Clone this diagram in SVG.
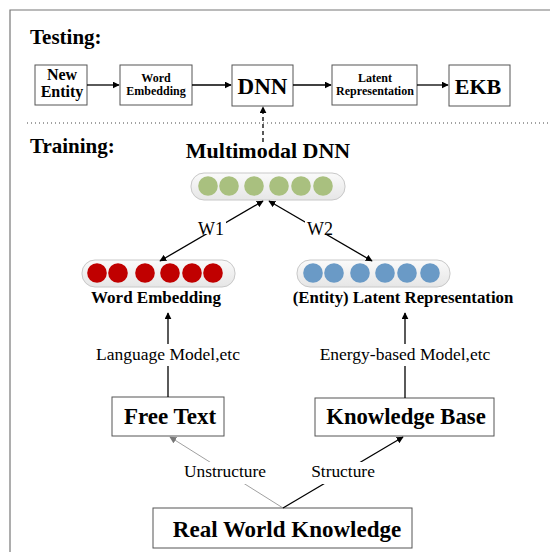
<svg xmlns="http://www.w3.org/2000/svg" width="550" height="552" viewBox="0 0 550 552">
<style>
.t{font-family:"Liberation Serif","Times New Roman",serif;fill:#000}
.b{font-weight:bold}
.box{fill:#fff;stroke:#555;stroke-width:1}
.ln{stroke:#000;stroke-width:1.3;fill:none}
.pill{fill:url(#pg);stroke:#c8c8c8;stroke-width:1}
.g{fill:#a9c07f}
.r{fill:#c00000}
.bl{fill:#6a9ac6}
</style>
<defs>
<linearGradient id="pg" x1="0" y1="0" x2="0" y2="1">
<stop offset="0" stop-color="#fafafa"/><stop offset="1" stop-color="#e6e6e6"/>
</linearGradient>
<marker id="ah" viewBox="0 0 10 10" refX="9" refY="5" markerWidth="7" markerHeight="7" orient="auto-start-reverse" markerUnits="userSpaceOnUse">
<path d="M0,0 L10,5 L0,10 z" fill="#000"/>
</marker>
<marker id="ahg" viewBox="0 0 10 10" refX="9" refY="5" markerWidth="7" markerHeight="7" orient="auto" markerUnits="userSpaceOnUse">
<path d="M0,0 L10,5 L0,10 z" fill="#777"/>
</marker>
</defs>
<rect width="550" height="552" fill="#fff"/>
<path d="M10,560 V10 H560" fill="none" stroke="#777" stroke-width="1.2"/>

<text class="t b" x="30" y="44" font-size="21">Testing:</text>
<text class="t b" x="30" y="153" font-size="21">Training:</text>
<line x1="27" y1="123" x2="550" y2="123" stroke="#444" stroke-width="1" stroke-dasharray="1,3"/>

<g id="new-entity"><rect class="box" x="35" y="65" width="52" height="40"/>
<text class="t b" x="62" y="80" font-size="16" text-anchor="middle">New</text>
<text class="t b" x="62" y="97" font-size="16" text-anchor="middle">Entity</text></g>
<g id="word-embedding-t"><rect class="box" x="120" y="65" width="72" height="40"/>
<text class="t b" x="156" y="82" font-size="12" text-anchor="middle">Word</text>
<text class="t b" x="156" y="95" font-size="12" text-anchor="middle">Embedding</text></g>
<g id="dnn"><rect class="box" x="232" y="65" width="61" height="41"/>
<text class="t b" x="262.5" y="94" font-size="23" text-anchor="middle">DNN</text></g>
<g id="latent-t"><rect class="box" x="332" y="65" width="85" height="40"/>
<text class="t b" x="375" y="82" font-size="12" text-anchor="middle">Latent</text>
<text class="t b" x="375" y="95" font-size="12" text-anchor="middle">Representation</text></g>
<g id="ekb"><rect class="box" x="449" y="65" width="61" height="41"/>
<text class="t b" x="478" y="94" font-size="22" text-anchor="middle">EKB</text></g>

<g id="multimodal">
<text class="t b" x="268" y="158" font-size="22" text-anchor="middle">Multimodal DNN</text>
<rect class="pill" x="191" y="173" width="154" height="27" rx="13"/>
<circle class="g" cx="208" cy="186" r="9.8"/><circle class="g" cx="229" cy="186" r="9.8"/><circle class="g" cx="254" cy="186" r="9.8"/><circle class="g" cx="279" cy="186" r="9.8"/><circle class="g" cx="301" cy="186" r="9.8"/><circle class="g" cx="323" cy="186" r="9.8"/>
</g>
<g id="word-embedding">
<rect class="pill" x="82" y="260" width="153" height="27" rx="13"/>
<circle class="r" cx="97" cy="273" r="9.8"/><circle class="r" cx="118" cy="273" r="9.8"/><circle class="r" cx="145" cy="273" r="9.8"/><circle class="r" cx="170" cy="273" r="9.8"/><circle class="r" cx="192" cy="273" r="9.8"/><circle class="r" cx="213" cy="273" r="9.8"/>
<text class="t b" x="156" y="303" font-size="17" text-anchor="middle">Word Embedding</text>
</g>
<g id="latent">
<rect class="pill" x="297" y="260" width="153" height="27" rx="13"/>
<circle class="bl" cx="313" cy="273" r="9.8"/><circle class="bl" cx="334" cy="273" r="9.8"/><circle class="bl" cx="360" cy="273" r="9.8"/><circle class="bl" cx="385" cy="273" r="9.8"/><circle class="bl" cx="407" cy="273" r="9.8"/><circle class="bl" cx="430" cy="273" r="9.8"/>
<text class="t b" x="403" y="303" font-size="16.8" text-anchor="middle">(Entity) Latent Representation</text>
</g>
<g id="free-text"><rect class="box" x="112" y="397" width="112" height="39"/>
<text class="t b" x="170" y="424" font-size="23" text-anchor="middle">Free Text</text></g>
<g id="knowledge-base"><rect class="box" x="315" y="398" width="179" height="38"/>
<text class="t b" x="406" y="424" font-size="22.7" text-anchor="middle">Knowledge Base</text></g>
<g id="real-world"><rect class="box" x="153" y="508" width="259" height="40"/>
<text class="t b" x="287" y="537" font-size="23" text-anchor="middle">Real World Knowledge</text></g>

<g id="connectors">
<line class="ln" x1="87" y1="85" x2="119" y2="85" marker-end="url(#ah)"/>
<line class="ln" x1="192" y1="85" x2="231" y2="85" marker-end="url(#ah)"/>
<line class="ln" x1="293" y1="85" x2="331" y2="85" marker-end="url(#ah)"/>
<line class="ln" x1="417" y1="85" x2="448" y2="85" marker-end="url(#ah)"/>
<line class="ln" x1="263" y1="142" x2="263" y2="107" stroke-dasharray="4,3" marker-end="url(#ah)"/>
<line class="ln" x1="263" y1="201" x2="160" y2="261" marker-start="url(#ah)" marker-end="url(#ah)"/>
<line class="ln" x1="269" y1="201" x2="372" y2="261" marker-start="url(#ah)" marker-end="url(#ah)"/>
<rect x="196" y="218" width="30" height="16" fill="#fff"/>
<rect x="305" y="218" width="30" height="16" fill="#fff"/>
<text class="t" x="211" y="235" font-size="18" text-anchor="middle">W1</text>
<text class="t" x="320" y="235" font-size="18" text-anchor="middle">W2</text>
<line class="ln" x1="168" y1="397" x2="168" y2="313" marker-end="url(#ah)"/>
<line class="ln" x1="405" y1="398" x2="405" y2="313" marker-end="url(#ah)"/>
<rect x="92" y="344" width="152" height="22" fill="#fff"/>
<rect x="315" y="344" width="180" height="22" fill="#fff"/>
<text class="t" x="168" y="360" font-size="17.5" text-anchor="middle">Language Model,etc</text>
<text class="t" x="405" y="360" font-size="17.5" text-anchor="middle">Energy-based Model,etc</text>
<line x1="283" y1="508" x2="170" y2="437" stroke="#888" stroke-width="0.8" marker-end="url(#ahg)"/>
<line class="ln" x1="283" y1="508" x2="403" y2="437" marker-end="url(#ah)"/>
<rect x="180" y="462" width="92" height="22" fill="#fff"/>
<rect x="305" y="462" width="78" height="22" fill="#fff"/>
<text class="t" x="225" y="477" font-size="17.4" text-anchor="middle">Unstructure</text>
<text class="t" x="343" y="477" font-size="17.4" text-anchor="middle">Structure</text>
</g>
</svg>
